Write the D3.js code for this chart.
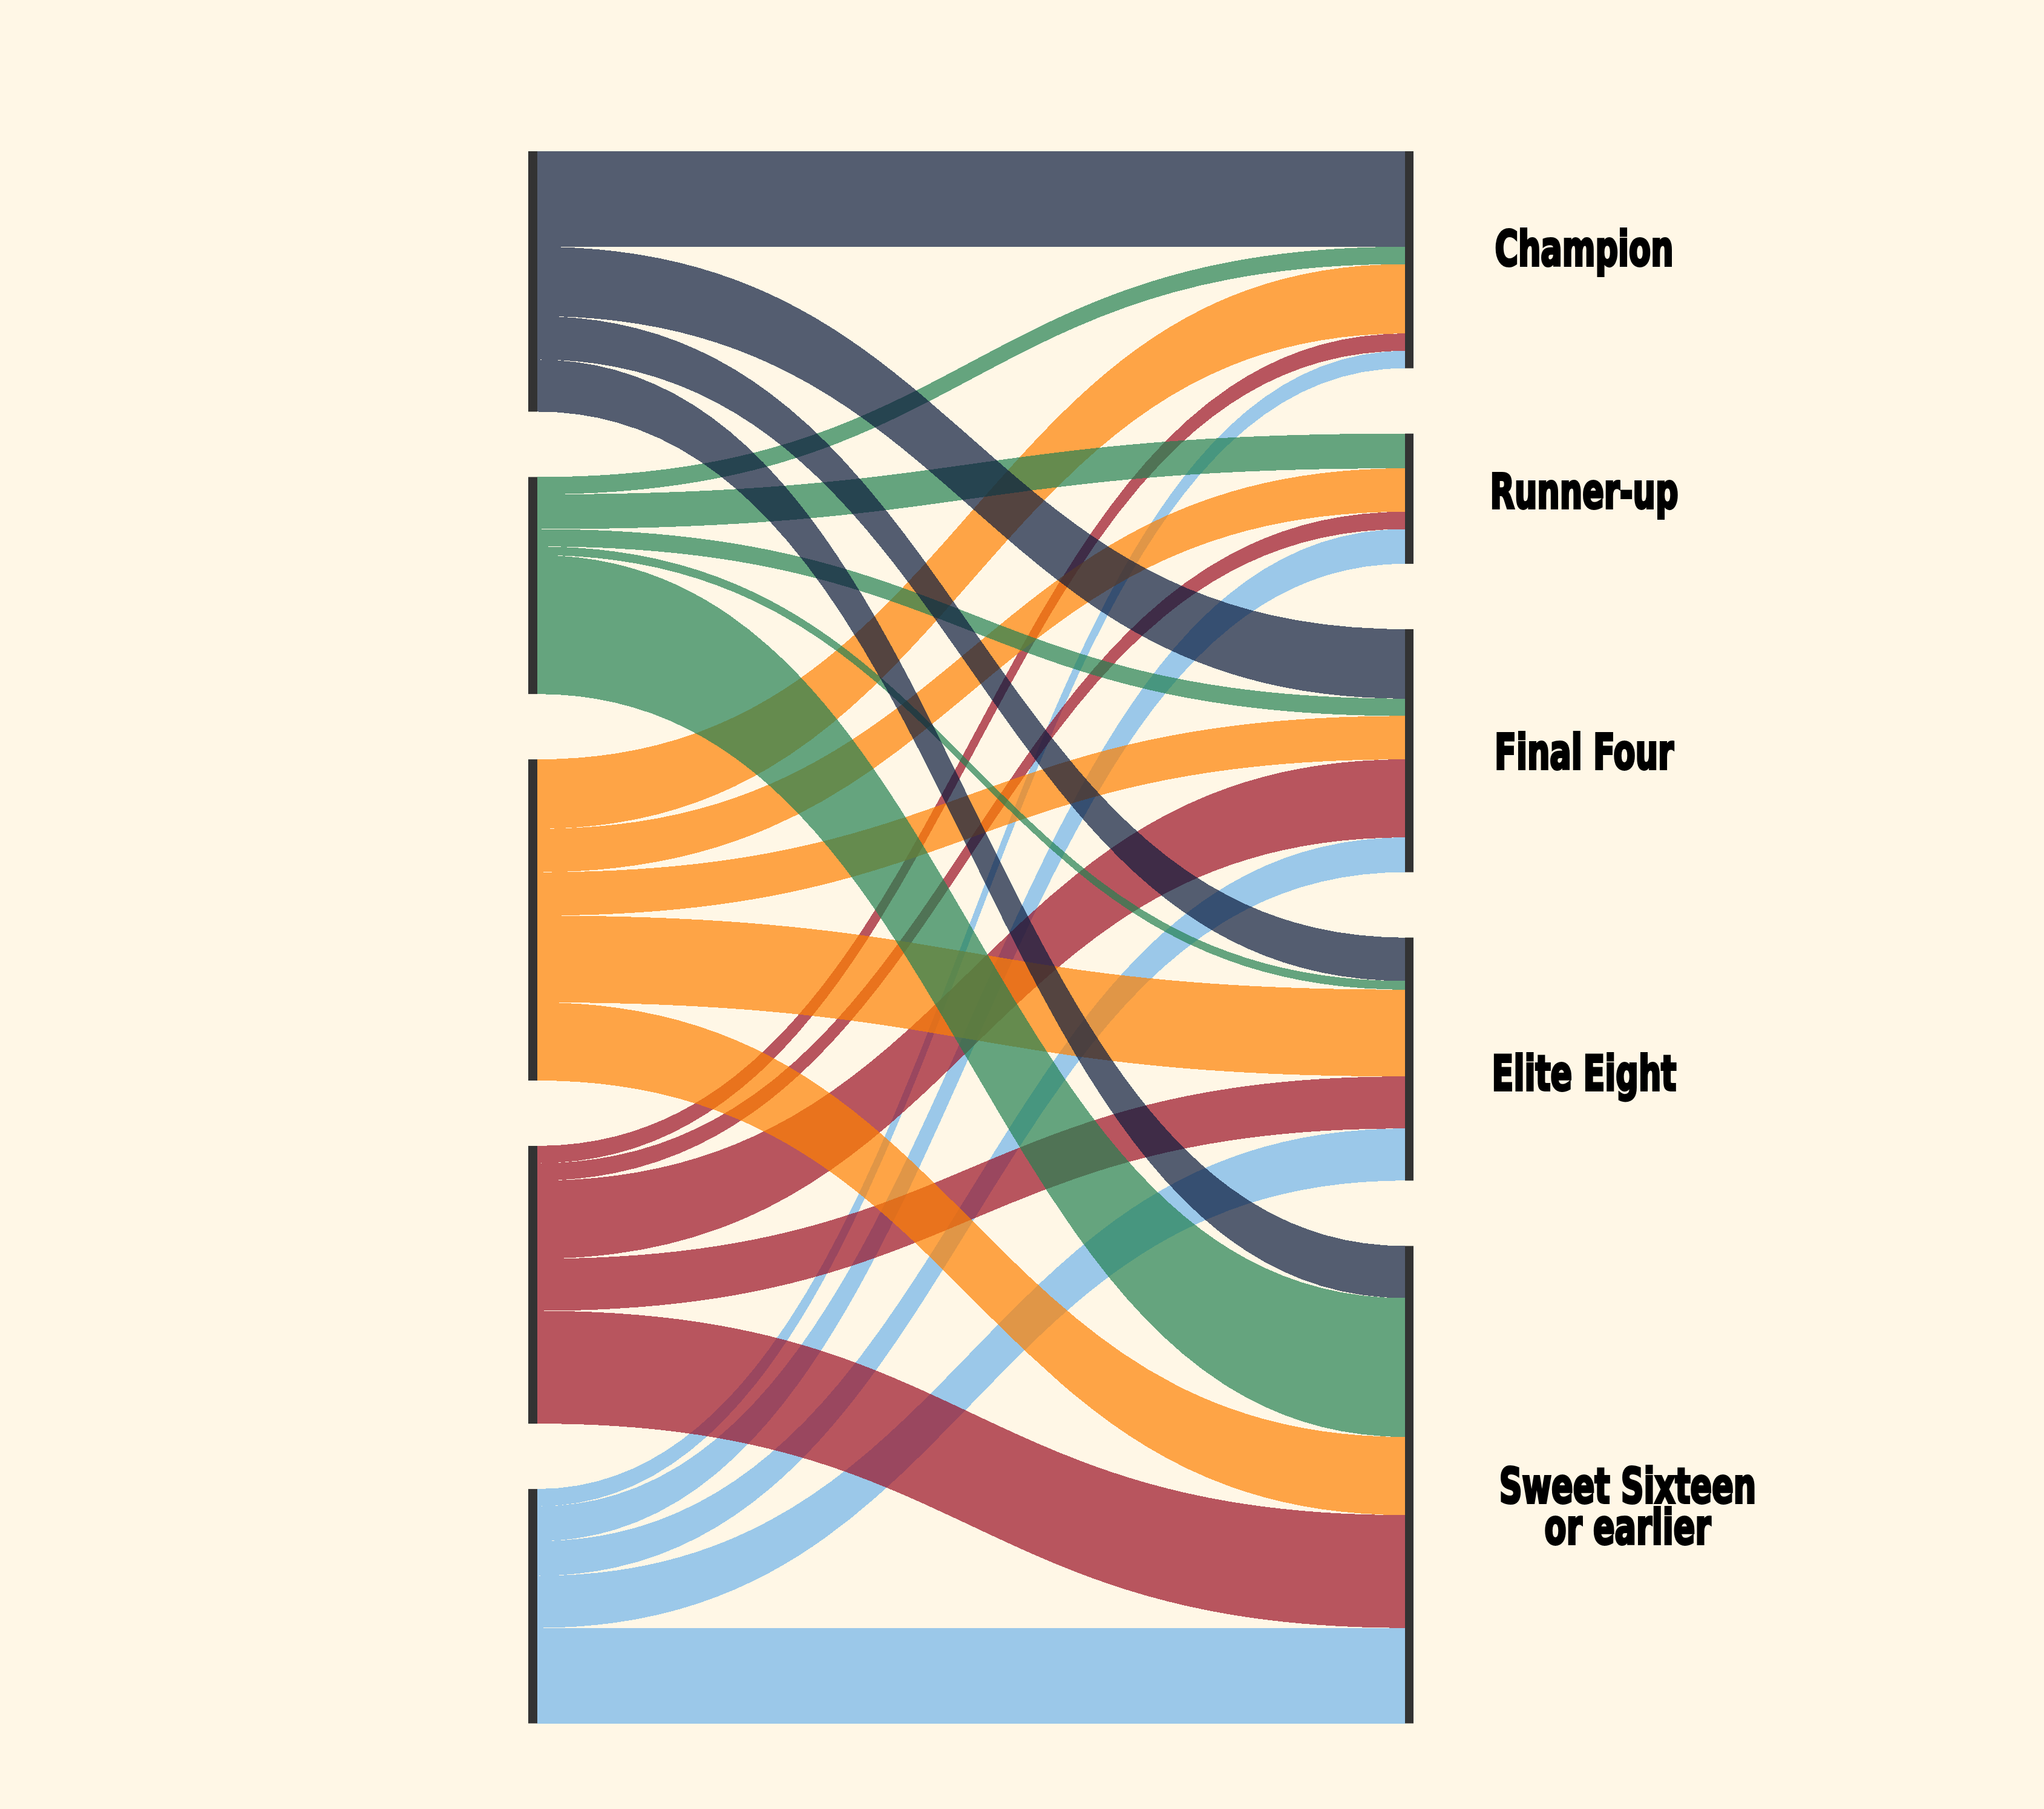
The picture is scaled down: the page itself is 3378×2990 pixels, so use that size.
<!DOCTYPE html>
<html>
<head>
    <meta charset="utf-8">
    <script type="text/javascript" src="https://cdn.jsdelivr.net/npm/d3@7"></script>
    <style>
        html, body { margin: 0; padding: 0; background: #fff7e6; }
    </style>
</head>

<body>
    <div id="viz"></div>
    <script type="text/javascript">

    // outcome columns (right side)
    var targetNames = ["Champion", "Runner-up", "Final Four", "Elite Eight", "Sweet Sixteen or earlier"];

    // one array per left group, counts per outcome (same order as targetNames)
    var groupNavy   = [11, 0, 8, 5, 6];
    var groupGreen  = [2, 4, 2, 1, 16];
    var groupOrange = [8, 5, 5, 10, 9];
    var groupRed    = [2, 2, 9, 6, 13];
    var groupBlue   = [2, 4, 4, 6, 11];

    var flows = [groupNavy, groupGreen, groupOrange, groupRed, groupBlue];
    var colors = ["#0c1b3d", "#248051", "#fe8001", "#9a1024", "#70b4ea"];

    // note: "top" is taken by window.top, so plotTop
    var W = 3378, H = 2990,
        plotTop = 250, plotBottom = 2848.5,
        pad = 108, nodeW = 15;

    var svg = d3.select("#viz")
        .append("svg")
        .attr("width", W)
        .attr("height", H)
        .style("display", "block");

    svg.append("rect")
        .attr("width", W)
        .attr("height", H)
        .attr("fill", "#fff7e6");

    var nSrc = flows.length;
    var srcTotals = flows.map(function(r){ return d3.sum(r); });
    var tgtTotals = targetNames.map(function(_, j){ return d3.sum(flows, function(r){ return r[j]; }); });
    var total = d3.sum(srcTotals);

    // value -> pixel height, padding taken out of the available height
    var k = d3.scaleLinear()
        .domain([0, total])
        .range([0, (plotBottom - plotTop) - pad * (nSrc - 1)]);

    // column positions
    var x = d3.scaleLinear().domain([0, 1]).range([873, 2322]);

    function stackNodes(totals) {
        var acc = 0;
        return totals.map(function(v, i) {
            var y0 = plotTop + k(acc) + i * pad;
            acc += v;
            return {y0: y0, y1: y0 + k(v), value: v};
        });
    }
    var srcNodes = stackNodes(srcTotals);
    var tgtNodes = stackNodes(tgtTotals);

    // build links: left side ordered by target, right side ordered by source
    var links = [];
    flows.forEach(function(row, i) {
        row.forEach(function(v, j) {
            if (!v) return;
            var sOff = d3.sum(row.slice(0, j));
            var tOff = d3.sum(flows.slice(0, i), function(r){ return r[j]; });
            links.push({
                src: i, tgt: j, value: v,
                sy: srcNodes[i].y0 + k(sOff),
                ty: tgtNodes[j].y0 + k(tOff),
                h: k(v)
            });
        });
    });

    var x0 = x(0) + nodeW, x1 = x(1), xm = (x0 + x1) / 2;

    function ribbon(d) {
        return "M" + x0 + "," + d.sy +
            "C" + xm + "," + d.sy + " " + xm + "," + d.ty + " " + x1 + "," + d.ty +
            "L" + x1 + "," + (d.ty + d.h) +
            "C" + xm + "," + (d.ty + d.h) + " " + xm + "," + (d.sy + d.h) + " " + x0 + "," + (d.sy + d.h) +
            "Z";
    }

    // last group drawn first, first group ends on top
    links.sort(function(a, b){ return b.src - a.src; });

    svg.append("g")
        .selectAll("path")
        .data(links)
        .enter().append("path")
        .attr("d", ribbon)
        .attr("fill", function(d){ return colors[d.src]; })
        .attr("fill-opacity", 0.7)
        .attr("shape-rendering", "crispEdges");

    svg.append("g")
        .selectAll("rect")
        .data(srcNodes)
        .enter().append("rect")
        .attr("x", x(0))
        .attr("y", function(d){ return d.y0; })
        .attr("width", nodeW)
        .attr("height", function(d){ return d.y1 - d.y0; })
        .attr("fill", "#333333");

    svg.append("g")
        .selectAll("rect")
        .data(tgtNodes)
        .enter().append("rect")
        .attr("x", x(1))
        .attr("y", function(d){ return d.y0; })
        .attr("width", nodeW - 1)
        .attr("height", function(d){ return d.y1 - d.y0; })
        .attr("fill", "#333333");

    // label baseline offsets from node centre, as in the original
    var labelDy = [10, 16, 30, 51, 30];
    var labelDx = [0, 0, 0, 0, 72];

    var labels = svg.append("g")
        .selectAll("text")
        .data(targetNames)
        .enter().append("text")
        .attr("transform", function(d, j) {
            var c = (tgtNodes[j].y0 + tgtNodes[j].y1) / 2;
            return "translate(" + (2618 + labelDx[j]) + "," + (c + labelDy[j]) + ") scale(0.73,1)";
        })
        .attr("text-anchor", "middle")
        .style("font-family", "'Liberation Sans Narrow', 'DejaVu Sans Condensed', sans-serif")
        .style("font-weight", "bold")
        .style("font-size", "80px")
        .attr("fill", "#000")
        .attr("stroke", "#000")
        .attr("stroke-width", 4);

    labels.each(function(d) {
        var parts = d === "Sweet Sixteen or earlier" ? ["Sweet Sixteen", "or earlier"] : [d];
        var t = d3.select(this);
        parts.forEach(function(p, i) {
            t.append("tspan").attr("x", 0).attr("y", i * 68).text(p);
        });
    });

    </script>
</body>
</html>
